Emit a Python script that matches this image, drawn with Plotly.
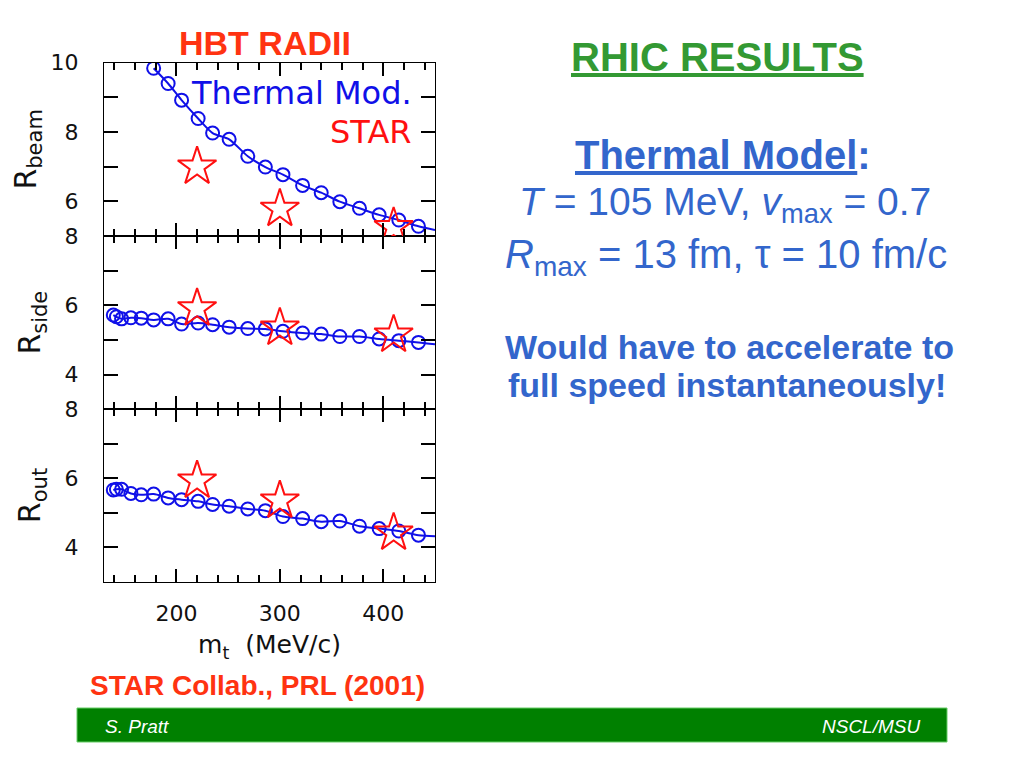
import plotly.graph_objects as go

# ---------------- data ----------------
model_mt = [139, 142, 147, 156, 166, 178, 192, 205, 221, 235, 251, 269, 286,
            303, 322, 340, 358, 377, 396, 415, 434]
model_beam = [None, None, None, None, None, 9.84, 9.40, 8.92, 8.39, 7.97, 7.79,
              7.30, 6.99, 6.77, 6.46, 6.25, 5.99, 5.80, 5.61, 5.46, 5.28]
model_side = [5.72, 5.67, 5.61, 5.64, 5.63, 5.58, 5.61, 5.46, 5.49, 5.44, 5.37,
              5.33, 5.32, 5.25, 5.20, 5.17, 5.10, 5.10, 5.03, 4.98, 4.93]
model_out = [5.66, 5.68, 5.68, 5.56, 5.52, 5.54, 5.43, 5.38, 5.33, 5.24, 5.19,
             5.11, 5.06, 4.89, 4.83, 4.74, 4.76, 4.61, 4.54, 4.47, 4.35]
curve_end_mt = 450
curve_end_beam = 5.17
curve_end_side = 4.88
curve_end_out = 4.32

star_mt = [220, 300, 410]
star_beam = [7.00, 5.78, 5.25]
star_side = [5.91, 5.35, 5.15]
star_out = [5.93, 5.35, 4.42]

x_range = [130, 450]
beam_range = [5, 10]
side_range = [3, 8]
out_range = [3, 8]

# ---------------- style ----------------
BLUE = "#1010E8"
RED = "#FF1010"
OFF = 8  # page body margin
W, H = 1024 - OFF, 768 - OFF
CHART_FONT = "DejaVu Sans"
SLIDE_FONT = "Liberation Sans"


def px_x(p):
    return (p - OFF) / W


def px_y(p):
    return 1 - (p - OFF) / H


fig = go.Figure()

panels = [
    ("x3", "y3", model_beam, curve_end_beam, star_beam),
    ("x2", "y2", model_side, curve_end_side, star_side),
    ("x", "y", model_out, curve_end_out, star_out),
]

for xa, ya, model, end_val, stars in panels:
    cx = [m for m, v in zip(model_mt, model) if v is not None] + [curve_end_mt]
    cy = [v for v in model if v is not None] + [end_val]
    fig.add_trace(go.Scatter(
        x=cx, y=cy, xaxis=xa, yaxis=ya, mode="lines",
        line=dict(color=BLUE, width=2, shape="spline", smoothing=0.8),
        showlegend=False, hoverinfo="skip"))
    fig.add_trace(go.Scatter(
        x=model_mt, y=model, xaxis=xa, yaxis=ya, mode="markers",
        marker=dict(symbol="circle-open", size=13, color=BLUE,
                    line=dict(width=2, color=BLUE)),
        name="Thermal Mod.", showlegend=False))
    fig.add_trace(go.Scatter(
        x=star_mt, y=stars, xaxis=xa, yaxis=ya, mode="markers",
        marker=dict(symbol="star-open", size=29, color=RED,
                    line=dict(width=2, color=RED)),
        name="STAR", showlegend=False))

xdom = [px_x(104), px_x(435)]
ydoms = {
    "y3": [px_y(236), px_y(62.7)],
    "y2": [px_y(409.3), px_y(236)],
    "y": [px_y(581.7), px_y(409.3)],
}

xcommon = dict(
    domain=xdom, range=x_range, ticks="inside", ticklen=13, tickwidth=1.5,
    tickcolor="black", dtick=100, tick0=0,
    minor=dict(dtick=20, ticklen=7, tickwidth=1.5, ticks="inside",
               tickcolor="black"),
    showline=True, linecolor="black", linewidth=1.3, mirror="ticks",
    showgrid=False, zeroline=False,
    tickfont=dict(family=CHART_FONT, size=22, color="#111"),
)
ycommon = dict(
    ticks="inside", ticklen=14, tickwidth=1.5, tickcolor="black",
    dtick=2, tick0=0,
    minor=dict(dtick=1, ticklen=14, tickwidth=1.5, ticks="inside",
               tickcolor="black"),
    showline=True, linecolor="black", linewidth=1.3, mirror="ticks",
    showgrid=False, zeroline=False, ticklabelstandoff=20,
    tickfont=dict(family=CHART_FONT, size=22, color="#111"),
)

fig.update_layout(
    width=W, height=H,
    margin=dict(l=0, r=0, t=0, b=0, pad=0, autoexpand=False),
    paper_bgcolor="white", plot_bgcolor="white",
    xaxis=dict(xcommon, anchor="y", ticklabelstandoff=12,
               title=dict(text="m<sub>t</sub>  (MeV/c)", standoff=10,
                          font=dict(family=CHART_FONT, size=25, color="#111"))),
    xaxis2=dict(xcommon, anchor="y2", matches="x", showticklabels=False),
    xaxis3=dict(xcommon, anchor="y3", matches="x", showticklabels=False),
    yaxis=dict(ycommon, domain=ydoms["y"], range=out_range, anchor="x",
               title=dict(text="R<sub>out</sub>", standoff=14,
                          font=dict(family=CHART_FONT, size=30, color="#111"))),
    yaxis2=dict(ycommon, domain=ydoms["y2"], range=side_range, anchor="x2",
                title=dict(text="R<sub>side</sub>", standoff=14,
                           font=dict(family=CHART_FONT, size=30, color="#111"))),
    yaxis3=dict(ycommon, domain=ydoms["y3"], range=beam_range, anchor="x3",
                title=dict(text="R<sub>beam</sub>", standoff=6,
                           font=dict(family=CHART_FONT, size=30, color="#111"))),
)

ORANGE_RED = "#FF3311"
GREEN = "#339933"
SBLUE = "#3366CC"


def note(text, x, y, size, color, family=SLIDE_FONT, xanchor="center"):
    return dict(text=text, x=px_x(x), y=px_y(y), xref="paper", yref="paper",
                xanchor=xanchor, yanchor="middle", showarrow=False,
                font=dict(family=family, size=size, color=color))


ann = [
    # legend-like labels inside top panel
    note("Thermal Mod.", 414, 93, 32, BLUE, CHART_FONT, "right"),
    note("STAR", 414, 132, 32, RED, CHART_FONT, "right"),
    # slide texts
    note("<b>HBT RADII</b>", 265, 43, 34, ORANGE_RED),
    note("<b>STAR Collab., PRL (2001)</b>", 257, 685, 28, ORANGE_RED),
    note("<b><u>RHIC RESULTS</u></b>", 717, 57, 40, GREEN),
    note("<b><u>Thermal Model</u>:</b>", 723, 155, 40, SBLUE),
    note("<i>T</i> = 105 MeV, <i>v</i><sub>max</sub> = 0.7", 725, 204, 39, SBLUE),
    note("<i>R</i><sub>max</sub> = 13 fm, τ = 10 fm/c", 726, 257, 40, SBLUE),
    note("<b>Would have to accelerate to</b>", 729, 347, 34, SBLUE),
    note("<b>full speed instantaneously!</b>", 727, 385, 34, SBLUE),
    # footer
    note("<i>S. Pratt</i>", 103, 726, 19, "white", xanchor="left"),
    note("<i>NSCL/MSU</i>", 922, 726, 19, "white", xanchor="right"),
]
fig.update_layout(annotations=ann)

fig.add_shape(type="rect", xref="paper", yref="paper",
              x0=px_x(77), x1=px_x(947), y0=px_y(742), y1=px_y(708),
              fillcolor="#008000", line=dict(color="#66CC66", width=1),
              layer="below")

fig.write_html("out.html")
